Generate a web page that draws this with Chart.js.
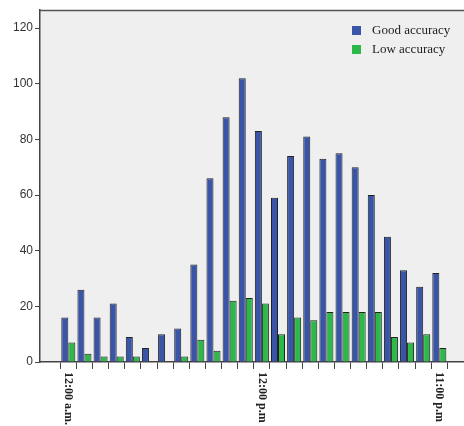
<!DOCTYPE html>
<html>
<head>
<meta charset="utf-8">
<script src="https://cdn.jsdelivr.net/npm/chart.js@4/dist/chart.umd.min.js"></script>
<style>
  html, body { margin: 0; padding: 0; background: #ffffff; }
  #wrap { width: 464px; height: 426px; position: relative; }
</style>
</head>
<body>
<div id="wrap"><canvas id="c" width="464" height="426"></canvas></div>
<script>
// ---- data ----
const hours = [0,1,2,3,4,5,6,7,8,9,10,11,12,13,14,15,16,17,18,19,20,21,22,23];
const goodAccuracy = [16,26,16,21,9,5,10,12,35,66,88,102,83,59,74,81,73,75,70,60,45,33,27,32];
const lowAccuracy  = [7,3,2,2,2,0,0,2,8,4,22,23,21,10,16,15,18,18,18,18,9,7,10,5];
const seriesNames = ['Good accuracy', 'Low accuracy'];
const labelHours = [0, 12, 23];
const labelTexts = ['12:00 a.m.', '12:00 p.m', '11:00 p.m'];
const yTicks = [0, 20, 40, 60, 80, 100, 120];

const colors = ['#3a55a8', '#2db84a'];

const decor = {
  id: 'decor',
  beforeDraw(chart) {
    const { ctx, chartArea: a } = chart;
    ctx.save();
    ctx.fillStyle = '#efefef';
    ctx.fillRect(a.left, a.top, a.right - a.left, a.bottom - a.top);
    ctx.restore();
  },
  afterDraw(chart) {
    const { ctx, chartArea: a } = chart;
    ctx.save();
    // top border
    ctx.strokeStyle = '#555';
    ctx.lineWidth = 1.5;
    ctx.beginPath();
    ctx.moveTo(a.left, a.top + 0.5);
    ctx.lineTo(a.right, a.top + 0.5);
    ctx.stroke();
    // legend
    const lx = 352, ly = [26, 45];
    ctx.font = '13px "Liberation Serif", "Times New Roman", serif';
    ctx.textBaseline = 'middle';
    chart.data.datasets.forEach((ds, i) => {
      ctx.fillStyle = ds.backgroundColor;
      ctx.fillRect(lx, ly[i], 9, 9);
      ctx.fillStyle = '#222';
      ctx.fillText(ds.label, lx + 20, ly[i] + 4.5);
    });
    // rotated x labels
    const xs = chart.scales.x;
    ctx.font = 'bold 12px "Liberation Serif", "Times New Roman", serif';
    ctx.fillStyle = '#222';
    ctx.textAlign = 'left';
    ctx.textBaseline = 'middle';
    labelHours.forEach((h, i) => {
      const px = xs.getPixelForValue(h);
      ctx.save();
      ctx.translate(px, a.bottom + 10);
      ctx.rotate(Math.PI / 2);
      ctx.fillText(labelTexts[i], 0, 0);
      ctx.restore();
    });
    ctx.restore();
  }
};

new Chart(document.getElementById('c'), {
  type: 'bar',
  data: {
    datasets: [
      { label: seriesNames[0], data: hours.map((h, i) => ({ x: h, y: goodAccuracy[i] })),
        backgroundColor: colors[0], borderColor: '#222', borderWidth: 1 },
      { label: seriesNames[1], data: hours.map((h, i) => ({ x: h, y: lowAccuracy[i] })),
        backgroundColor: colors[1], borderColor: '#222', borderWidth: 1 }
    ]
  },
  options: {
    responsive: false,
    animation: false,
    devicePixelRatio: 1,
    layout: { padding: { top: 10, right: 0, bottom: 0, left: 0 } },
    datasets: { bar: { categoryPercentage: 0.87, barPercentage: 1.0 } },
    plugins: { legend: { display: false }, tooltip: { enabled: false } },
    scales: {
      x: {
        type: 'linear',
        min: -1.755,
        max: 24.53,
        offset: false,
        afterBuildTicks: s => { s.ticks = hours.map(v => ({ value: v })); },
        afterFit: s => { s.height = 64; },
        ticks: { display: false },
        grid: { display: true, drawOnChartArea: false, drawTicks: true, tickLength: 7, color: '#444', lineWidth: 1 },
        border: { display: true, color: '#444', width: 1.5 }
      },
      y: {
        min: 0,
        max: 126.5,
        afterBuildTicks: s => { s.ticks = yTicks.map(v => ({ value: v })); },
        afterFit: s => { s.width = 40; },
        ticks: { color: '#333', padding: 2, font: { family: '"Liberation Sans", Arial, sans-serif', size: 12 } },
        grid: { display: true, drawOnChartArea: false, drawTicks: true, tickLength: 5, color: '#444', lineWidth: 1 },
        border: { display: true, color: '#444', width: 1.5 }
      }
    }
  },
  plugins: [decor]
});
</script>
</body>
</html>
